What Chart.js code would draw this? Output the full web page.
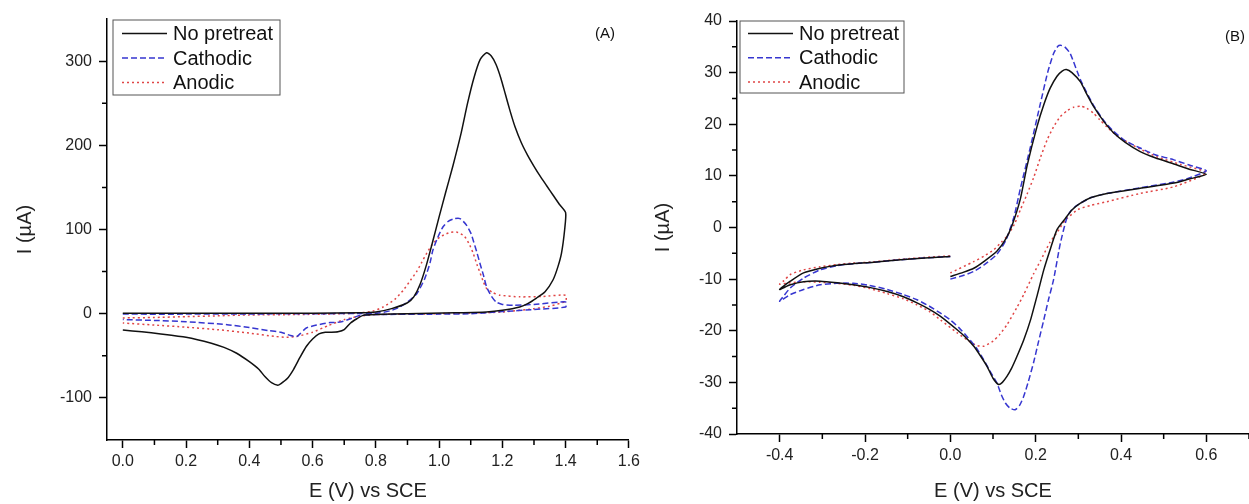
<!DOCTYPE html>
<html>
<head>
<meta charset="utf-8">
<script src="https://cdn.jsdelivr.net/npm/chart.js@4.4.0/dist/chart.umd.min.js"></script>
<style>
body { margin: 0; background: #fff; }
#caixaA { position: absolute; left: 0; top: 0; }
#caixaB { position: absolute; left: 640px; top: 0; }
</style>
</head>
<body>
<div id="caixaA"><canvas id="graficoA" width="644" height="504"></canvas></div>
<div id="caixaB"><canvas id="graficoB" width="612" height="504"></canvas></div>
<script>
// ---------- dados do painel (A) ----------
let semPreA_E = [0, 0.2, 0.4, 0.6, 0.75, 0.8, 0.85, 0.9, 0.92, 0.94, 0.96, 0.98, 1.0, 1.02, 1.044, 1.07, 1.09, 1.11, 1.13, 1.15, 1.165, 1.18, 1.195, 1.21, 1.225, 1.24, 1.26, 1.28, 1.3, 1.32, 1.34, 1.36, 1.38, 1.4,
    1.397, 1.387, 1.375, 1.36, 1.335, 1.308, 1.28, 1.255, 1.2, 1.15, 1.05, 0.9, 0.8, 0.76, 0.74, 0.72, 0.7, 0.68, 0.66, 0.64, 0.62, 0.6, 0.58, 0.56, 0.54, 0.52, 0.5, 0.49, 0.47, 0.45, 0.43, 0.4, 0.36, 0.32, 0.28, 0.2, 0.12, 0.06, 0];
let semPreA_I = [0.5, 0.5, 0.5, 0.6, 1, 2, 6, 13, 20, 35, 58, 86, 115, 143, 176, 215, 250, 280, 302, 310, 306, 296, 280, 260, 240, 222, 203, 188, 175, 163, 152, 141, 130, 120,
    100, 72, 55, 40, 26, 18.6, 12, 8, 4, 2, 1, 0, -1, -2, -6, -11, -19, -21.5, -22, -22, -24, -30, -39, -52, -66, -77, -83, -85, -82, -75, -66, -57, -47, -40, -35, -28, -24, -21.5, -19.5];

let catodicoA_E = [0, 0.2, 0.4, 0.6, 0.75, 0.813, 0.85, 0.876, 0.9, 0.93, 0.955, 0.971, 0.98, 0.995, 1.012, 1.03, 1.05, 1.066, 1.085, 1.1, 1.108, 1.12, 1.129, 1.14, 1.15, 1.165, 1.18, 1.2, 1.234, 1.3, 1.4,
    1.4, 1.3, 1.2, 1.1, 1.0, 0.8, 0.75, 0.72, 0.687, 0.655, 0.613, 0.58, 0.56, 0.55, 0.53, 0.5, 0.46, 0.4, 0.33, 0.2, 0.1, 0];
let catodicoA_I = [-0.5, -0.5, -0.3, 0, 0.3, 1, 4, 8, 14, 24, 42, 60, 75, 90, 103, 110, 113, 113, 106, 96, 87, 72, 60, 46, 32, 21, 14, 11, 10, 11, 14,
    8, 5, 2.5, 0, -0.5, -1, -2, -6, -10, -10.5, -13.5, -17, -24, -27, -26, -22, -20, -16.5, -13, -9.5, -8, -7];

let anodicoA_E = [0, 0.1, 0.2, 0.3, 0.4, 0.55, 0.7, 0.75, 0.79, 0.823, 0.86, 0.887, 0.91, 0.929, 0.945, 0.961, 0.98, 1.003, 1.03, 1.055, 1.08, 1.095, 1.108, 1.12, 1.13, 1.14, 1.15, 1.17, 1.192, 1.255, 1.33, 1.4,
    1.4, 1.35, 1.3, 1.2, 1.0, 0.8, 0.75, 0.72, 0.7, 0.65, 0.6, 0.55, 0.518, 0.48, 0.4, 0.3, 0.2, 0.1, 0];
let anodicoA_I = [-5, -4.5, -3.5, -2.5, -1.5, -1, 0, 1, 3, 8, 17, 28, 40, 50, 61, 72, 83, 91, 96, 97, 92, 83, 71.5, 58, 48, 38, 30, 25, 22, 20, 20.5, 22,
    15, 9, 6, 2, 0, -1, -3, -5, -7, -14, -22, -27, -28, -27, -23, -19, -16, -13.5, -11];

let xTicksA = [0, 0.2, 0.4, 0.6, 0.8, 1.0, 1.2, 1.4, 1.6];
let yTicksA = [-100, 0, 100, 200, 300];
let xMenoresA = [0.1, 0.3, 0.5, 0.7, 0.9, 1.1, 1.3, 1.5];
let yMenoresA = [-50, 50, 150, 250];

// ---------- dados do painel (B) ----------
let semPreB_E = [0, 0.03, 0.055, 0.08, 0.109, 0.13, 0.145, 0.164, 0.18, 0.203, 0.22, 0.234, 0.25, 0.262, 0.272, 0.285, 0.305, 0.32, 0.336, 0.36, 0.383, 0.41, 0.445, 0.48, 0.524, 0.56, 0.6,
    0.56, 0.524, 0.445, 0.367, 0.33, 0.305, 0.285, 0.27, 0.25, 0.235, 0.219, 0.204, 0.188, 0.172, 0.156, 0.144, 0.133, 0.122, 0.113, 0.1, 0.086, 0.07, 0.055, 0.035, 0.016, -0.023, -0.05, -0.078, -0.11, -0.148, -0.19, -0.227, -0.265, -0.305, -0.344, -0.375, -0.4,
    -0.39, -0.375, -0.344, -0.305, -0.266, -0.228, -0.188, -0.15, -0.109, -0.06, 0];
let semPreB_I = [-9.5, -8.7, -7.9, -6.5, -4.6, -2.2, 0.5, 5.5, 12, 19.5, 24, 27, 29.3, 30.3, 30.6, 30, 28.2, 25.8, 23.4, 20.5, 18.3, 16.5, 14.7, 13.5, 12.3, 11.3, 10.3,
    9.4, 8.6, 7.6, 6.6, 5.8, 4.7, 3.4, 1.8, -0.4, -4, -8.2, -13, -17.9, -21.8, -25, -27.2, -28.8, -30, -30.4, -29.2, -26.9, -24.8, -23, -21.2, -19.8, -17.2, -15.8, -14.6, -13.4, -12.4, -11.6, -11.1, -10.7, -10.4, -10.5, -11.1, -12,
    -11.3, -10.4, -8.8, -7.9, -7.3, -7.0, -6.8, -6.5, -6.2, -5.9, -5.6];

let catodicoB_E = [0, 0.03, 0.055, 0.08, 0.109, 0.13, 0.149, 0.164, 0.188, 0.211, 0.228, 0.242, 0.252, 0.258, 0.268, 0.281, 0.305, 0.336, 0.36, 0.383, 0.41, 0.445, 0.48, 0.524, 0.56, 0.6,
    0.56, 0.524, 0.445, 0.367, 0.33, 0.305, 0.285, 0.274, 0.258, 0.242, 0.23, 0.219, 0.207, 0.195, 0.183, 0.172, 0.162, 0.152, 0.14, 0.129, 0.119, 0.109, 0.093, 0.078, 0.06, 0.039, 0.02, 0, -0.023, -0.05, -0.078, -0.11, -0.148, -0.19, -0.227, -0.266, -0.305, -0.344, -0.375, -0.4,
    -0.39, -0.375, -0.344, -0.305, -0.266, -0.228, -0.188, -0.15, -0.109, -0.06, 0];
let catodicoB_I = [-10, -9.3, -8.5, -7.2, -5.2, -2.5, 2, 7.5, 15.7, 24, 30, 33.7, 35.1, 35.3, 35, 33.7, 28.6, 23.6, 20.7, 18.6, 16.8, 15.4, 14.1, 13.1, 12.1, 11,
    9.6, 8.8, 7.7, 6.6, 5.8, 4.7, 3.5, 2.1, -3, -10.1, -14, -17.9, -22, -26.2, -29.8, -32.7, -34.5, -35.3, -35, -34, -32.3, -30.1, -27.8, -25.6, -23.2, -21.1, -19.4, -17.9, -16.6, -15.2, -14, -13, -12, -11.2, -10.8, -10.8, -11.1, -12, -13, -14.3,
    -13.2, -11.7, -9.8, -8.2, -7.4, -7.0, -6.8, -6.5, -6.2, -5.9, -5.6];

let anodicoB_E = [0, 0.055, 0.08, 0.102, 0.12, 0.133, 0.15, 0.164, 0.18, 0.195, 0.211, 0.227, 0.242, 0.258, 0.275, 0.289, 0.305, 0.32, 0.336, 0.35, 0.367, 0.39, 0.414, 0.445, 0.484, 0.54, 0.6,
    0.524, 0.445, 0.367, 0.33, 0.3, 0.27, 0.25, 0.234, 0.211, 0.195, 0.172, 0.156, 0.133, 0.115, 0.1, 0.078, 0.06, 0.04, 0.016, -0.023, -0.05, -0.078, -0.11, -0.148, -0.19, -0.227, -0.266, -0.305, -0.344, -0.375, -0.4,
    -0.39, -0.375, -0.344, -0.305, -0.266, -0.228, -0.188, -0.15, -0.109, -0.06, 0];
let anodicoB_I = [-8.8, -6.6, -5.5, -4.3, -2.8, -1.7, 0.6, 3.4, 6.5, 9.6, 13.5, 17, 19.5, 21.5, 22.7, 23.3, 23.5, 23.1, 22.1, 20.9, 19.5, 17.8, 16.6, 15.2, 13.7, 12.2, 10.6,
    7.9, 6.6, 5.0, 4.3, 3.5, 1.5, -1, -2.8, -6.5, -9, -13, -15.5, -18.8, -20.8, -22, -23, -22.8, -21.8, -20.4, -17.9, -16.2, -15, -13.8, -12.8, -11.8, -11.2, -10.8, -10.6, -10.5, -10.7, -11,
    -10.3, -9.1, -8.2, -7.6, -7.2, -6.9, -6.7, -6.4, -6.1, -5.8, -5.5];

let xTicksB = [-0.4, -0.2, 0.0, 0.2, 0.4, 0.6];
let yTicksB = [-40, -30, -20, -10, 0, 10, 20, 30, 40];
let xMenoresB = [-0.3, -0.1, 0.1, 0.3, 0.5, 0.7];
let yMenoresB = [-35, -25, -15, -5, 5, 15, 25, 35];

let nomes = ['No pretreat', 'Cathodic', 'Anodic'];

const fonte = '"Liberation Sans", Arial, sans-serif';

function juntar(E, I){
    let pontos = [];
    for(let i = 0; i < E.length; i++){
        pontos.push({x: E[i], y: I[i]});
    }
    return pontos;
}

function serie(nome, E, I, cor, traco){
    return {
        label: nome,
        data: juntar(E, I),
        showLine: true,
        borderColor: cor,
        borderWidth: 1.5,
        borderDash: traco,
        pointRadius: 0,
        tension: 0.2,
        fill: false
    };
}

// tracinhos menores nos eixos
const tracosMenores = {
    id: 'tracosMenores',
    afterDraw(chart, args, op){
        let ctx = chart.ctx;
        let sx = chart.scales.x, sy = chart.scales.y;
        ctx.save();
        ctx.strokeStyle = '#000';
        ctx.lineWidth = 1.5;
        ctx.beginPath();
        op.x.forEach(function(v){
            let px = sx.getPixelForValue(v);
            ctx.moveTo(px, sy.bottom);
            ctx.lineTo(px, sy.bottom + 5);
        });
        op.y.forEach(function(v){
            let py = sy.getPixelForValue(v);
            ctx.moveTo(sx.left, py);
            ctx.lineTo(sx.left - 5, py);
        });
        ctx.stroke();
        ctx.restore();
    }
};

// legenda com moldura + rotulo do painel
const legendaComCaixa = {
    id: 'legendaComCaixa',
    afterDraw(chart, args, op){
        let ctx = chart.ctx;
        ctx.save();
        ctx.strokeStyle = '#555';
        ctx.lineWidth = 1;
        ctx.strokeRect(op.x, op.y, op.w, op.h);
        ctx.font = '20px ' + fonte;
        ctx.textBaseline = 'middle';
        ctx.fillStyle = '#111';
        chart.data.datasets.forEach(function(ds, i){
            let ly = op.y + op.linha1 + i * op.passo;
            ctx.strokeStyle = ds.borderColor;
            ctx.lineWidth = ds.borderWidth;
            ctx.setLineDash(ds.borderDash || []);
            ctx.beginPath();
            ctx.moveTo(op.x + op.ini, ly);
            ctx.lineTo(op.x + op.fim, ly);
            ctx.stroke();
            ctx.setLineDash([]);
            ctx.fillText(ds.label, op.x + op.texto, ly + 1);
        });
        ctx.font = '15px ' + fonte;
        ctx.textAlign = 'center';
        ctx.fillText(op.rotulo, op.rx, op.ry);
        ctx.restore();
    }
};

function eixos(xmin, xmax, ymin, ymax, xTicks, yTicks, larguraY, alturaX, tituloPadY){
    return {
        x: {
            type: 'linear', min: xmin, max: xmax,
            afterBuildTicks: function(s){ s.ticks = xTicks.map(function(v){ return {value: v}; }); },
            afterFit: function(s){ s.height = alturaX; },
            grid: { drawOnChartArea: false, drawTicks: true, tickLength: 8, tickWidth: 1.5, tickColor: '#000' },
            border: { display: true, color: '#000', width: 1.5 },
            ticks: { color: '#222', font: { family: fonte, size: 16 }, padding: 4, maxRotation: 0,
                callback: function(v){ return v.toFixed(1); } },
            title: { display: true, text: 'E (V) vs SCE', color: '#222', font: { family: fonte, size: 20 }, padding: { top: 0, bottom: 1 } }
        },
        y: {
            type: 'linear', min: ymin, max: ymax,
            afterBuildTicks: function(s){ s.ticks = yTicks.map(function(v){ return {value: v}; }); },
            afterFit: function(s){ s.width = larguraY; },
            grid: { drawOnChartArea: false, drawTicks: true, tickLength: 8, tickWidth: 1.5, tickColor: '#000' },
            border: { display: true, color: '#000', width: 1.5 },
            ticks: { color: '#222', font: { family: fonte, size: 16 }, padding: 7,
                callback: function(v){ return String(v); } },
            title: { display: true, text: 'I (\u00b5A)', color: '#222', font: { family: fonte, size: 20 }, padding: { top: tituloPadY, bottom: 0 } }
        }
    };
}

let graficoA = new Chart(document.getElementById('graficoA').getContext('2d'), {
    type: 'scatter',
    data: {
        datasets: [
            serie(nomes[0], semPreA_E, semPreA_I, '#111111', []),
            serie(nomes[1], catodicoA_E, catodicoA_I, '#3636d0', [6, 3]),
            serie(nomes[2], anodicoA_E, anodicoA_I, '#e04545', [2, 3])
        ]
    },
    options: {
        responsive: false,
        animation: false,
        layout: { padding: { left: 0, right: 15, top: 19, bottom: 0 } },
        scales: eixos(-0.05, 1.6, -150, 350, xTicksA, yTicksA, 107, 64, 13),
        plugins: {
            legend: { display: false },
            tooltip: { enabled: false },
            tracosMenores: { x: xMenoresA, y: yMenoresA },
            legendaComCaixa: { x: 113, y: 20, w: 167, h: 75, linha1: 13.5, passo: 24.5, ini: 9, fim: 54, texto: 60, rotulo: '(A)', rx: 605, ry: 34 }
        }
    },
    plugins: [tracosMenores, legendaComCaixa]
});

let graficoB = new Chart(document.getElementById('graficoB').getContext('2d'), {
    type: 'scatter',
    data: {
        datasets: [
            serie(nomes[0], semPreB_E, semPreB_I, '#111111', []),
            serie(nomes[1], catodicoB_E, catodicoB_I, '#3636d0', [6, 3]),
            serie(nomes[2], anodicoB_E, anodicoB_I, '#e04545', [2, 3])
        ]
    },
    options: {
        responsive: false,
        animation: false,
        layout: { padding: { left: 0, right: 3, top: 21, bottom: 0 } },
        scales: eixos(-0.5, 0.7, -40, 40, xTicksB, yTicksB, 97, 70, 11),
        plugins: {
            legend: { display: false },
            tooltip: { enabled: false },
            tracosMenores: { x: xMenoresB, y: yMenoresB },
            legendaComCaixa: { x: 100, y: 21, w: 164, h: 72, linha1: 12.5, passo: 24.3, ini: 8, fim: 53, texto: 59, rotulo: '(B)', rx: 595, ry: 37 }
        }
    },
    plugins: [tracosMenores, legendaComCaixa]
});
</script>
</body>
</html>
